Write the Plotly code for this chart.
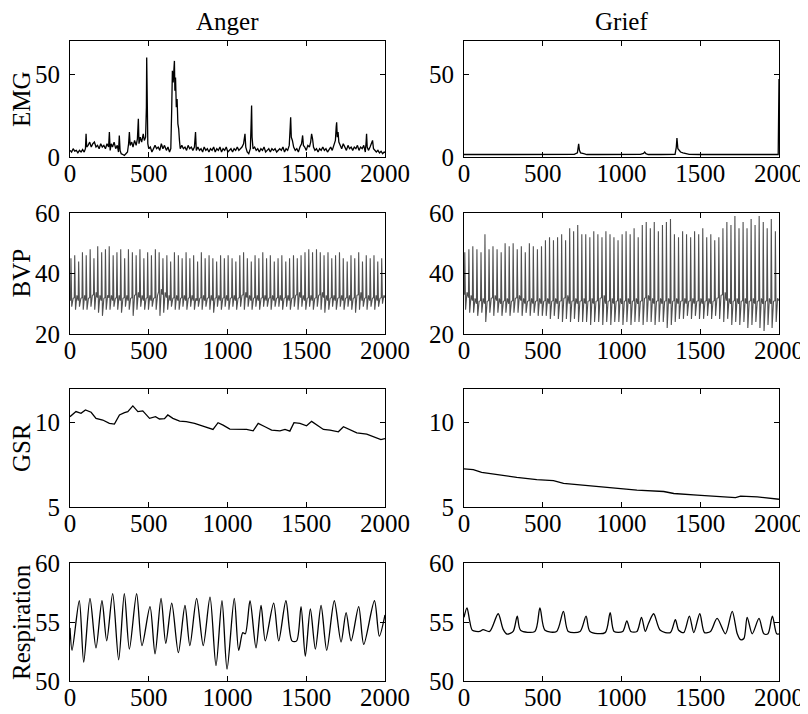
import plotly.graph_objects as go

# ---------------- data ----------------
col_titles = ["Anger", "Grief"]
row_labels = ["EMG", "BVP", "GSR", "Respiration"]
x_ticks = [0, 500, 1000, 1500, 2000]
y_ticks = [[0, 50], [20, 40, 60], [5, 10], [50, 55, 60]]
y_ranges = [[0, 70], [20, 60], [5, 12], [50, 60]]

emg_anger_x = [0, 10, 20, 30, 40, 50, 60, 70, 80, 90, 98, 102, 106, 115, 125, 135, 145, 155, 165, 175,
               185, 195, 205, 215, 225, 235, 245, 250, 255, 262, 270, 280, 290, 300, 308, 313, 318, 325,
               335, 345, 355, 365, 372, 377, 382, 392, 400, 410, 420, 428, 434, 438, 446, 455, 465, 472,
               480, 485, 487, 490, 494, 500, 510, 520, 530, 540, 550, 560, 570, 580, 590, 600, 612, 622,
               632, 640, 646, 650, 655, 660, 663, 666, 670, 675, 680, 685, 690, 695, 700, 710, 720, 730,
               740, 750, 760, 770, 780, 790, 797, 802, 812, 822, 832, 842, 852, 862, 872, 882, 892, 902,
               912, 922, 932, 942, 952, 962, 972, 982, 992, 1002, 1012, 1022, 1032, 1042, 1052, 1062,
               1072, 1082, 1092, 1102, 1111, 1116, 1125, 1135, 1145, 1150, 1153, 1156, 1162, 1172, 1182,
               1192, 1202, 1212, 1222, 1232, 1242, 1252, 1262, 1272, 1282, 1292, 1302, 1312, 1322, 1332,
               1342, 1352, 1362, 1372, 1382, 1392, 1398, 1401, 1405, 1412, 1420, 1430, 1440, 1450, 1460,
               1470, 1477, 1482, 1490, 1500, 1510, 1520, 1528, 1534, 1540, 1546, 1555, 1565, 1575, 1585,
               1595, 1605, 1615, 1625, 1635, 1645, 1655, 1665, 1675, 1685, 1690, 1693, 1697, 1702, 1707,
               1715, 1725, 1735, 1745, 1755, 1765, 1775, 1785, 1795, 1805, 1815, 1825, 1835, 1845, 1855,
               1865, 1875, 1880, 1883, 1887, 1895, 1905, 1915, 1921, 1927, 1935, 1945, 1955, 1965, 1975,
               1985, 1995, 2000]
emg_anger_y = [4, 3, 5, 3.5, 4, 2.5, 4, 3, 4.5, 3, 5, 14, 6, 7, 9, 6, 8, 9, 6, 7,
               5, 8, 6, 7, 5, 8, 6, 15, 4, 8, 6, 9, 5, 7, 3, 13, 4, 2,
               1.5, 1, 2, 3, 8, 15, 7, 9, 6, 10, 7, 11, 23, 8, 12, 9, 14, 10,
               12, 30, 60, 20, 8, 5, 6, 3, 5, 7, 5, 6, 4, 8, 5, 7, 4, 6,
               3, 5, 30, 52, 45, 57, 58, 40, 48, 30, 35, 20, 17, 10, 5, 7, 5, 6,
               4, 7, 5, 6, 4, 6, 15, 4, 6, 4, 5, 3, 6, 4, 5, 3, 5, 4,
               6, 3, 5, 4, 6, 3, 5, 4, 6, 3, 4, 5, 3, 5, 4, 6,
               4, 5, 6, 8, 14, 6, 3, 2, 5, 20, 31, 12, 5, 6, 4,
               5, 3, 5, 4, 6, 3, 4, 5, 3, 5, 4, 5, 3, 4, 5,
               4, 6, 3, 5, 4, 7, 18, 24, 12, 10, 6, 4, 5, 3, 6,
               8, 13, 7, 6, 4, 7, 6, 9, 14, 11, 6, 4, 5, 3, 5,
               4, 6, 4, 5, 3, 5, 6, 4, 7, 10, 18, 21, 12, 15, 9,
               7, 5, 8, 6, 4, 7, 5, 6, 4, 6, 5, 7, 4, 6, 5,
               7, 3, 9, 14, 6, 4, 6, 8, 10, 5, 4, 3, 4, 2.5, 3.5,
               2, 3, 2.5]

emg_grief_x = [0, 50, 100, 150, 200, 300, 400, 500, 550, 600, 650, 700, 720, 728, 733, 740, 760, 780,
               850, 950, 1050, 1120, 1140, 1147, 1155, 1170, 1250, 1340, 1348, 1352, 1358, 1365, 1375,
               1390, 1410, 1430, 1500, 1600, 1700, 1800, 1900, 1995, 2000]
emg_grief_y = [1.5, 1.6, 1.4, 1.6, 1.5, 1.5, 1.6, 1.8, 1.5, 1.5, 1.5, 1.6, 2.5, 8, 4, 2.5, 2, 1.5,
               1.5, 1.5, 1.4, 1.6, 2.2, 3, 2, 1.5, 1.5, 1.6, 6, 11.5, 5, 4, 3,
               2.5, 2, 1.6, 1.5, 1.5, 1.4, 1.5, 1.5, 1.5, 47]

bvp_anger_onset = [3, 27, 52, 76, 100, 125, 149, 173, 198, 222,
                   246, 271, 295, 319, 344, 368, 393, 417, 441, 466,
                   490, 514, 539, 563, 587, 612, 636, 660, 685, 709, 734,
                   758, 782, 807, 831, 855, 880, 904, 928, 953, 977,
                   1001, 1026, 1050, 1075, 1099, 1123, 1148, 1172, 1196, 1221,
                   1245, 1269, 1294, 1318, 1342, 1367, 1391, 1416, 1440, 1464,
                   1489, 1513, 1537, 1562, 1586, 1610, 1635, 1659, 1683, 1708, 1732,
                   1757, 1781, 1805, 1830, 1854, 1878, 1903, 1927, 1951, 1976]
bvp_anger_peak = [45, 46, 44, 47, 46, 48, 45, 49, 47, 48,
                  49, 46, 47, 48, 45, 48, 47, 46, 48, 45,
                  47, 46, 48, 47, 45, 46, 44, 47, 46, 45, 47,
                  45, 46, 44, 47, 45, 46, 45, 44, 46, 45,
                  46, 45, 44, 46, 47, 45, 44, 46, 45, 47,
                  45, 46, 44, 45, 46, 44, 45, 46, 45, 46,
                  47, 48, 47, 48, 47, 46, 47, 45, 46, 47, 45,
                  44, 46, 45, 47, 44, 46, 45, 46, 44, 45]
bvp_anger_trough = [29, 28, 29, 28, 28, 29, 28, 27, 26, 28,
                    28, 29, 28, 27, 29, 28, 26, 28, 29, 28,
                    28, 29, 28, 26, 27, 28, 29, 28, 28, 29, 28,
                    29, 28, 29, 28, 29, 28, 27, 29, 28, 29,
                    28, 29, 28, 29, 28, 29, 28, 29, 28, 29,
                    29, 28, 29, 29, 28, 29, 28, 29, 28, 29,
                    28, 29, 28, 29, 28, 27, 28, 29, 28, 29, 28,
                    29, 28, 27, 28, 29, 28, 29, 28, 29, 30]
bvp_anger_base = [31, 32, 31, 32, 31, 32, 33, 32, 31, 32,
                  32, 31, 32, 31, 32, 31, 32, 33, 32, 31,
                  32, 31, 32, 34, 33, 32, 31, 32, 31, 32, 31,
                  32, 31, 31, 32, 31, 32, 31, 32, 31, 32,
                  31, 32, 31, 32, 33, 32, 31, 32, 31, 32,
                  31, 32, 31, 32, 31, 32, 31, 32, 33, 32,
                  31, 32, 31, 32, 33, 32, 31, 32, 31, 32, 31,
                  32, 31, 32, 33, 31, 32, 31, 32, 31, 32]

bvp_grief_onset = [2, 28, 53, 79, 105, 130, 156, 181, 207, 233,
                   258, 284, 309, 335, 361, 386, 412, 437, 463, 489,
                   514, 540, 565, 591, 617, 642, 668, 693, 719, 745,
                   770, 796, 821, 847, 873, 898, 924, 949, 975, 1001,
                   1026, 1052, 1077, 1103, 1129, 1154, 1180, 1205, 1231, 1257,
                   1282, 1308, 1333, 1359, 1385, 1410, 1436, 1461, 1487, 1513,
                   1538, 1564, 1589, 1615, 1641, 1666, 1692, 1717, 1743,
                   1769, 1794, 1820, 1845, 1871, 1897, 1922, 1948, 1974]
bvp_grief_peak = [47, 48, 49, 48, 47, 53, 48, 49, 48, 47,
                  50, 49, 50, 48, 49, 47, 50, 49, 48, 49,
                  51, 52, 51, 52, 53, 51, 55, 54, 56, 53,
                  53, 52, 54, 53, 52, 54, 53, 52, 51, 53,
                  54, 53, 55, 52, 56, 57, 55, 57, 54, 56,
                  57, 58, 53, 52, 54, 53, 52, 54, 53, 55,
                  52, 53, 51, 52, 55, 57, 56, 59, 55,
                  57, 55, 58, 56, 59, 57, 55, 58, 54]
bvp_grief_trough = [28, 27, 27, 26, 27, 24, 27, 26, 27, 26,
                    27, 26, 27, 27, 26, 27, 26, 27, 26, 26,
                    26, 25, 26, 25, 24, 25, 24, 25, 24, 24,
                    24, 23, 24, 24, 23, 24, 23, 24, 24, 23,
                    24, 23, 24, 24, 23, 24, 24, 23, 24, 24,
                    22, 23, 24, 25, 25, 26, 25, 26, 25, 25,
                    26, 25, 26, 25, 24, 25, 23, 24, 23,
                    24, 22, 23, 24, 22, 21, 23, 22, 24]
bvp_grief_base = [33, 32, 31, 30, 31, 30, 31, 32, 31, 30,
                  31, 30, 31, 32, 31, 30, 31, 30, 31, 30,
                  31, 30, 31, 30, 31, 32, 30, 31, 30, 31,
                  30, 31, 30, 31, 32, 30, 31, 30, 31, 30,
                  31, 30, 31, 30, 31, 32, 31, 30, 31, 30,
                  31, 30, 31, 30, 31, 30, 31, 30, 31, 30,
                  31, 30, 31, 32, 33, 31, 30, 31, 30,
                  31, 30, 31, 30, 31, 30, 31, 30, 31]

gsr_anger_x = [0, 38, 70, 98, 134, 165, 208, 250, 282, 314, 346, 367, 399, 431, 462, 505, 543, 568,
               600, 621, 653, 696, 738, 791, 844, 908, 940, 972, 1015, 1078, 1121, 1163, 1195, 1238,
               1280, 1333, 1365, 1396, 1422, 1460, 1502, 1534, 1566, 1609, 1651, 1704, 1736, 1778,
               1821, 1884, 1948, 1974, 2000]
gsr_anger_y = [10.36, 10.66, 10.56, 10.76, 10.62, 10.26, 10.16, 9.96, 9.92, 10.46, 10.6, 10.66, 11.0,
               10.66, 10.7, 10.26, 10.36, 10.22, 10.24, 10.46, 10.26, 10.1, 10.06, 9.96, 9.8, 9.6,
               10.0, 9.86, 9.62, 9.62, 9.6, 9.52, 9.96, 9.76, 9.56, 9.52, 9.6, 9.5, 10.0, 9.96, 9.82,
               10.08, 9.86, 9.6, 9.56, 9.46, 9.76, 9.56, 9.4, 9.32, 9.12, 9.0, 9.06]

gsr_grief_x = [0, 59, 112, 208, 335, 462, 568, 632, 780, 929, 1098, 1268, 1332, 1480, 1650, 1724,
               1756, 1862, 2000]
gsr_grief_y = [7.26, 7.22, 7.06, 6.92, 6.76, 6.62, 6.56, 6.4, 6.26, 6.12, 6.0, 5.92, 5.8, 5.7, 5.6,
               5.56, 5.64, 5.6, 5.46]

resp_anger_x = [0, 13, 59, 87, 127, 165, 203, 233, 271, 309, 345, 377, 423, 457, 508, 540, 578, 608,
                646, 688, 730, 761, 804, 846, 889, 927, 965, 997, 1043, 1071, 1097, 1113, 1143, 1181,
                1213, 1240, 1293, 1325, 1371, 1409, 1439, 1467, 1494, 1526, 1558, 1594, 1630, 1678,
                1721, 1753, 1785, 1833, 1865, 1933, 1964, 2000]
resp_anger_y = [54.5, 52.6, 56.8, 51.6, 57.0, 52.8, 56.8, 53.4, 57.4, 51.8, 57.4, 52.7, 57.4, 53.0,
                56.3, 52.3, 57.0, 53.2, 56.6, 52.4, 56.4, 53.0, 57.0, 53.0, 57.1, 51.3, 56.8, 51.0,
                57.0, 52.6, 54.1, 54.0, 56.8, 52.8, 56.4, 53.4, 56.6, 53.4, 56.8, 53.4, 53.4, 56.3,
                52.1, 56.1, 52.7, 56.4, 52.6, 56.8, 53.3, 55.8, 53.4, 56.3, 53.1, 56.8, 53.8, 55.6]

resp_grief_x = [0, 19, 36, 53, 100, 121, 163, 217, 248, 274, 312, 338, 359, 450, 482, 514, 588, 631,
                662, 737, 775, 800, 896, 928, 953, 1008, 1034, 1059, 1098, 1127, 1151, 1172, 1204,
                1246, 1310, 1342, 1363, 1395, 1431, 1459, 1497, 1527, 1565, 1607, 1660, 1703, 1735,
                1756, 1777, 1798, 1830, 1873, 1904, 1930, 1958, 1985, 2000]
resp_grief_y = [55.4, 56.2, 55.1, 54.3, 54.2, 54.35, 54.2, 55.7, 54.4, 53.97, 54.2, 55.5, 54.3, 54.2,
                56.2, 54.3, 54.2, 55.9, 54.2, 54.2, 55.5, 54.2, 54.1, 55.8, 54.2, 54.2, 55.1, 54.2,
                54.2, 55.4, 54.2, 54.9, 55.7, 54.3, 54.1, 55.2, 54.3, 54.1, 55.5, 54.1, 55.7, 54.1,
                54.2, 55.3, 54.0, 55.9, 54.0, 53.5, 53.6, 55.4, 54.0, 55.3, 54.0, 54.0, 55.5, 54.0,
                54.0]


def bvp_series(onsets, peaks, troughs, bases):
    xs, ys = [], []
    for o, p, t, b in zip(onsets, peaks, troughs, bases):
        xs += [o, o + 3, o + 8, o + 12, o + 17]
        ys += [b, p, t, b, b + 0.8]
    xs.append(2000)
    ys.append(bases[-1])
    return xs, ys


series = [
    [(emg_anger_x, emg_anger_y), (emg_grief_x, emg_grief_y)],
    [bvp_series(bvp_anger_onset, bvp_anger_peak, bvp_anger_trough, bvp_anger_base),
     bvp_series(bvp_grief_onset, bvp_grief_peak, bvp_grief_trough, bvp_grief_base)],
    [(gsr_anger_x, gsr_anger_y), (gsr_grief_x, gsr_grief_y)],
    [(resp_anger_x, resp_anger_y), (resp_grief_x, resp_grief_y)],
]

# ---------------- layout ----------------
# the page body has an 8px margin, so everything is placed 8px up/left in paper space
OFF = 8
W, H = 808, 714
FONT = "Liberation Serif, DejaVu Serif, serif"
FS = 25
col_px = [(70 - OFF, 385 - OFF), (464 - OFF, 779 - OFF)]
row_px = [(41 - OFF, 157 - OFF), (213 - OFF, 334 - OFF), (389 - OFF, 507 - OFF), (563 - OFF, 681 - OFF)]

fig = go.Figure()
layout = dict(width=W, height=H, autosize=False, margin=dict(l=0, r=0, t=0, b=0, pad=0),
              paper_bgcolor="white", plot_bgcolor="white", showlegend=False,
              font=dict(family=FONT, size=FS, color="black"))
annotations = []

k = 0
for r in range(4):
    for c in range(2):
        k += 1
        xa = "xaxis" if k == 1 else f"xaxis{k}"
        ya = "yaxis" if k == 1 else f"yaxis{k}"
        xs, ys = series[r][c]
        if r == 1:
            line = dict(color="#505050", width=1.1)
        elif r == 3:
            line = dict(color="black", width=1.3, shape="spline", smoothing=0.8)
        else:
            line = dict(color="black", width=1.3)
        fig.add_trace(go.Scatter(
            x=xs, y=ys, mode="lines", line=line,
            xaxis="x" if k == 1 else f"x{k}", yaxis="y" if k == 1 else f"y{k}",
            hoverinfo="skip"))
        x0, x1 = col_px[c]
        y0, y1 = row_px[r]
        layout[xa] = dict(domain=[x0 / W, x1 / W], range=[0, 2000], tickvals=x_ticks,
                          ticks="inside", ticklen=5, tickcolor="black", mirror="ticks",
                          showline=True, linecolor="black", linewidth=1, showgrid=False,
                          zeroline=False, anchor="y" if k == 1 else f"y{k}",
                          automargin=False, ticklabelstandoff=-6,
                          tickfont=dict(family=FONT, size=FS))
        layout[ya] = dict(domain=[1 - y1 / H, 1 - y0 / H], range=y_ranges[r], tickvals=y_ticks[r],
                          ticks="inside", ticklen=5, tickcolor="black", mirror="ticks",
                          showline=True, linecolor="black", linewidth=1, showgrid=False,
                          zeroline=False, anchor="x" if k == 1 else f"x{k}",
                          automargin=False, ticklabelstandoff=4,
                          tickfont=dict(family=FONT, size=FS))

for c in range(2):
    x0, x1 = col_px[c]
    annotations.append(dict(text=col_titles[c], x=(x0 + x1) / 2 / W, y=1 - (21 - OFF) / H,
                            xref="paper", yref="paper", showarrow=False,
                            xanchor="center", yanchor="middle", borderpad=0,
                            font=dict(family=FONT, size=FS)))
for r in range(4):
    y0, y1 = row_px[r]
    annotations.append(dict(text=row_labels[r], x=(21 - OFF) / W, y=1 - (y0 + y1) / 2 / H,
                            xref="paper", yref="paper", showarrow=False, textangle=-90,
                            xanchor="center", yanchor="middle", borderpad=0,
                            font=dict(family=FONT, size=FS)))

layout["annotations"] = annotations
fig.update_layout(**layout)
fig.write_html("out.html")
